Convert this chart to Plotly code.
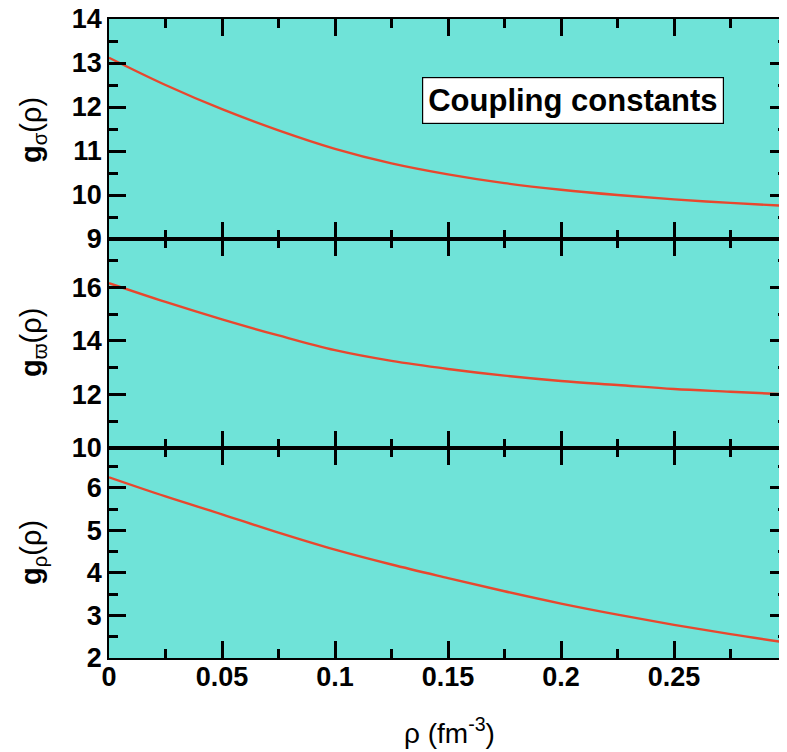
import plotly.graph_objects as go

rho = [0.0, 0.025, 0.05, 0.075, 0.1, 0.125, 0.15, 0.175, 0.2, 0.225, 0.25, 0.275, 0.3]
g_sigma = [13.12, 12.5, 11.95, 11.47, 11.05, 10.72, 10.47, 10.27, 10.12, 10.0, 9.9, 9.82, 9.75]
g_omega = [16.15, 15.45, 14.8, 14.2, 13.65, 13.25, 12.95, 12.7, 12.5, 12.35, 12.2, 12.1, 12.0]
g_rho = [6.25, 5.8, 5.38, 4.95, 4.55, 4.2, 3.88, 3.57, 3.28, 3.02, 2.78, 2.56, 2.36]

x_tickvals = [0, 0.05, 0.1, 0.15, 0.2, 0.25]
x_ticktext = ["0", "0.05", "0.1", "0.15", "0.2", "0.25"]
x_minor = [0.025, 0.075, 0.125, 0.175, 0.225, 0.275]

BG = "#6FE3D8"
RED = "#E8472E"
FONT = "Liberation Sans, Arial, sans-serif"

fig = go.Figure()
fig.add_trace(go.Scatter(x=rho, y=g_sigma, mode="lines", line=dict(color=RED, width=2.4, shape="spline"),
                         xaxis="x3", yaxis="y3", showlegend=False))
fig.add_trace(go.Scatter(x=rho, y=g_omega, mode="lines", line=dict(color=RED, width=2.4, shape="spline"),
                         xaxis="x2", yaxis="y2", showlegend=False))
fig.add_trace(go.Scatter(x=rho, y=g_rho, mode="lines", line=dict(color=RED, width=2.4, shape="spline"),
                         xaxis="x", yaxis="y", showlegend=False))

# page body has an 8px margin: figure is 8px smaller, offsets compensate
W, Hfig = 779, 744
L, T, B = 101, 11, 94
H = Hfig - T - B  # 639
d1 = 210 / H
d2 = (210 + 209) / H

common_x = dict(range=[0, 0.3], tickmode="array", tickvals=x_tickvals, ticktext=x_ticktext,
                ticks="inside", ticklen=17, tickwidth=2.5, tickcolor="black",
                showline=True, linewidth=1.8, linecolor="black", mirror="allticks",
                showgrid=False, zeroline=False, automargin=False, ticklabeloverflow="allow",
                ticklabelstandoff=-6,
                minor=dict(tickmode="array", tickvals=x_minor,
                           ticks="inside", ticklen=9, tickwidth=2.5, tickcolor="black", showgrid=False),
                tickfont=dict(family=FONT, size=27, color="black", weight="bold"))

def yax(rng, dtick, minor, dom, anchor):
    return dict(range=rng, domain=dom, anchor=anchor, tick0=0, dtick=dtick,
                ticks="inside", ticklen=17, tickwidth=2.5, tickcolor="black",
                showline=True, linewidth=1.8, linecolor="black", mirror="allticks",
                showgrid=False, zeroline=False, automargin=False, ticklabeloverflow="allow",
                minor=dict(dtick=minor, tick0=0, ticks="inside", ticklen=9, tickwidth=2.5,
                           tickcolor="black", showgrid=False),
                tickfont=dict(family=FONT, size=27, color="black", weight="bold"))

fig.update_layout(
    width=W, height=Hfig,
    margin=dict(l=L, r=0, t=T, b=B),
    paper_bgcolor="white", plot_bgcolor=BG,
    xaxis=dict(common_x, anchor="y", domain=[0, 1]),
    xaxis2=dict(common_x, anchor="y2", domain=[0, 1], matches="x", showticklabels=False),
    xaxis3=dict(common_x, anchor="y3", domain=[0, 1], matches="x", showticklabels=False),
    yaxis=yax([2, 6.94], 1, 0.5, [0, d1], "x"),
    yaxis2=yax([10, 17.8], 2, 1, [d1, d2], "x2"),
    yaxis3=yax([9, 14], 1, 0.5, [d2, 1], "x3"),
)

def ytitle(sub, ypix):
    fig.add_annotation(text="<b>g</b><sub>" + sub + "</sub>(ρ)", textangle=-90,
                       xref="paper", yref="paper", x=(33 - 109) / 678, y=(658 - ypix) / H,
                       xanchor="center", yanchor="middle", showarrow=False,
                       font=dict(family=FONT, size=29, color="black"))

ytitle("σ", 130)
ytitle("ϖ", 343)
ytitle("ρ", 553)

fig.add_annotation(text="ρ (fm<sup>-3</sup>)", xref="paper", yref="paper",
                   x=(449 - 109) / 678, y=(658 - 731) / H, xanchor="center", yanchor="middle",
                   showarrow=False, font=dict(family=FONT, size=28, color="black"))

fig.add_annotation(text="<b>Coupling constants</b>", xref="x3", yref="y3", x=0.2053, y=12.14,
                   xanchor="center", yanchor="middle", showarrow=False,
                   bgcolor="white", bordercolor="black", borderwidth=1.2, borderpad=5,
                   font=dict(family=FONT, size=31, color="black"))

fig.write_html("out.html")
